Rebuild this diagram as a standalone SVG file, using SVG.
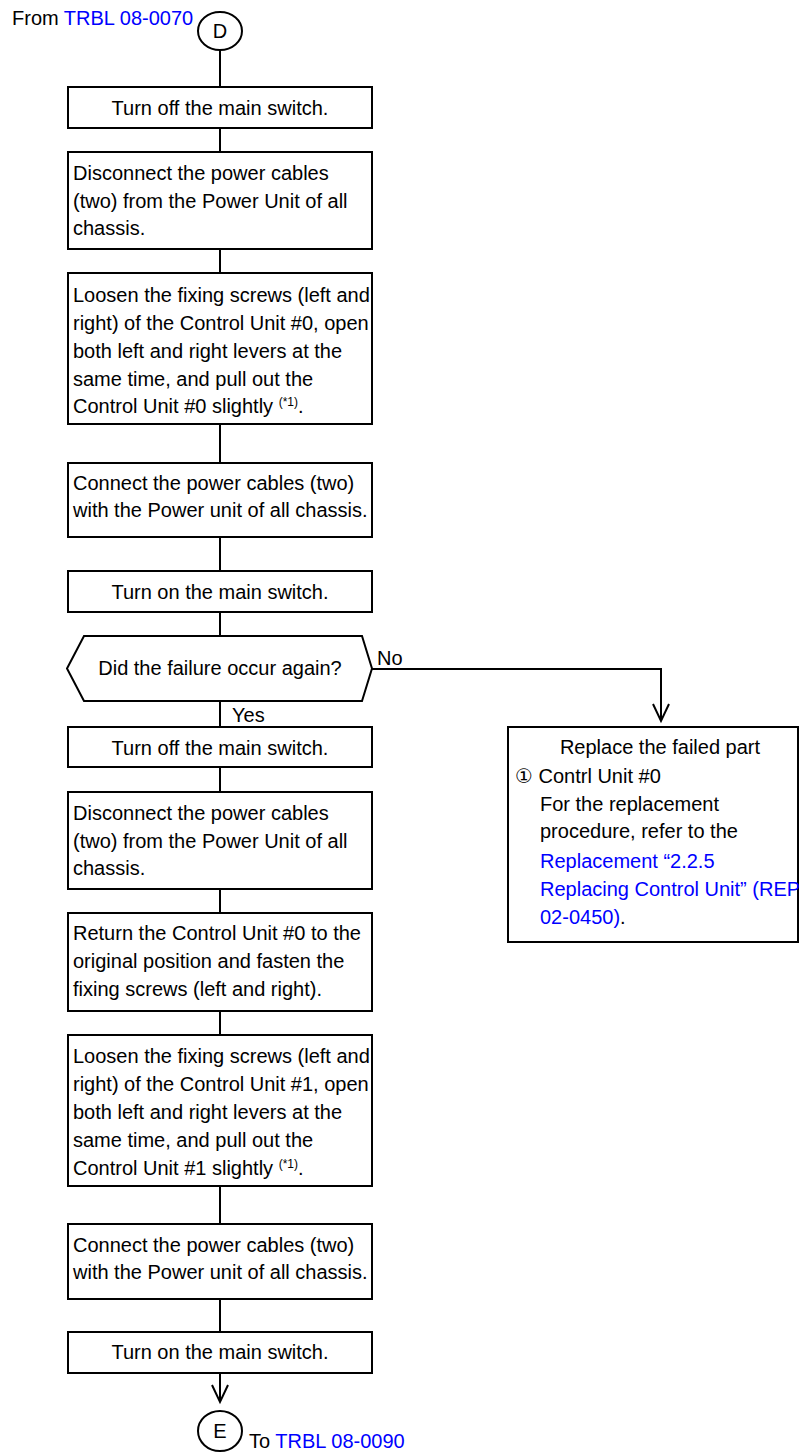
<svg xmlns="http://www.w3.org/2000/svg" width="799" height="1453" viewBox="0 0 799 1453">
<style>
text{font-family:"Liberation Sans",Arial,"DejaVu Sans",sans-serif;font-size:20px;fill:#000}
.c{text-anchor:middle}
.lk{fill:#0000ff}
.sup{font-size:12px}
.box{fill:#fff;stroke:#000;stroke-width:2}
.ln{fill:none;stroke:#000;stroke-width:2}
</style>
<defs>
<marker id="arr" markerUnits="userSpaceOnUse" orient="auto" refX="0" refY="0" markerWidth="20" markerHeight="20" overflow="visible">
<path d="M-17,-8 L0,0 L-17,8" fill="none" stroke="#000" stroke-width="2"/>
</marker>
</defs>
<g id="connectors">
<line class="ln" x1="220" y1="50" x2="220" y2="87"/>
<line class="ln" x1="220" y1="128" x2="220" y2="152"/>
<line class="ln" x1="220" y1="249" x2="220" y2="273"/>
<line class="ln" x1="220" y1="424" x2="220" y2="463"/>
<line class="ln" x1="220" y1="537" x2="220" y2="571"/>
<line class="ln" x1="220" y1="612" x2="220" y2="636"/>
<line class="ln" x1="220" y1="701" x2="220" y2="727"/>
<line class="ln" x1="220" y1="767" x2="220" y2="792"/>
<line class="ln" x1="220" y1="889" x2="220" y2="913"/>
<line class="ln" x1="220" y1="1011" x2="220" y2="1035"/>
<line class="ln" x1="220" y1="1186" x2="220" y2="1224"/>
<line class="ln" x1="220" y1="1299" x2="220" y2="1332"/>
<line class="ln" x1="220" y1="1373" x2="220" y2="1402" marker-end="url(#arr)"/>
<polyline class="ln" points="372,669 661,669 661,721" marker-end="url(#arr)"/>
<text x="377" y="665">No</text>
<text x="232" y="722">Yes</text>
</g>
<g id="startD">
<text x="12" y="25">From <tspan class="lk">TRBL 08-0070</tspan></text>
<ellipse class="box" cx="220" cy="31" rx="22" ry="19"/>
<text class="c" x="220" y="38">D</text>
</g>
<g id="n1">
<rect class="box" x="68" y="87" width="304" height="41"/>
<text class="c" x="220" y="115">Turn off the main switch.</text>
</g>
<g id="n2">
<rect class="box" x="68" y="152" width="304" height="97"/>
<text x="73" y="180">Disconnect the power cables</text>
<text x="73" y="208">(two) from the Power Unit of all</text>
<text x="73" y="235">chassis.</text>
</g>
<g id="n3">
<rect class="box" x="68" y="273" width="304" height="151"/>
<text x="73" y="302">Loosen the fixing screws (left and</text>
<text x="73" y="330">right) of the Control Unit #0, open</text>
<text x="73" y="357.5">both left and right levers at the</text>
<text x="73" y="385.5">same time, and pull out the</text>
<text x="73" y="413">Control Unit #0 slightly <tspan class="sup" dy="-7">(*1)</tspan><tspan dy="7">.</tspan></text>
</g>
<g id="n4">
<rect class="box" x="68" y="463" width="304" height="74"/>
<text x="73" y="490">Connect the power cables (two)</text>
<text x="73" y="517">with the Power unit of all chassis.</text>
</g>
<g id="n5">
<rect class="box" x="68" y="571" width="304" height="41"/>
<text class="c" x="220" y="599">Turn on the main switch.</text>
</g>
<g id="d1">
<polygon class="box" points="67,668.5 84,636 362,636 372,668.5 362,701 84,701"/>
<text class="c" x="220" y="675">Did the failure occur again?</text>
</g>
<g id="n6">
<rect class="box" x="68" y="727" width="304" height="40"/>
<text class="c" x="220" y="755">Turn off the main switch.</text>
</g>
<g id="n7">
<rect class="box" x="68" y="792" width="304" height="97"/>
<text x="73" y="820">Disconnect the power cables</text>
<text x="73" y="847.5">(two) from the Power Unit of all</text>
<text x="73" y="875">chassis.</text>
</g>
<g id="n8">
<rect class="box" x="68" y="913" width="304" height="98"/>
<text x="73" y="940">Return the Control Unit #0 to the</text>
<text x="73" y="968">original position and fasten the</text>
<text x="73" y="996">fixing screws (left and right).</text>
</g>
<g id="n9">
<rect class="box" x="68" y="1035" width="304" height="151"/>
<text x="73" y="1063">Loosen the fixing screws (left and</text>
<text x="73" y="1091">right) of the Control Unit #1, open</text>
<text x="73" y="1118.5">both left and right levers at the</text>
<text x="73" y="1146.5">same time, and pull out the</text>
<text x="73" y="1175">Control Unit #1 slightly <tspan class="sup" dy="-7">(*1)</tspan><tspan dy="7">.</tspan></text>
</g>
<g id="n10">
<rect class="box" x="68" y="1224" width="304" height="75"/>
<text x="73" y="1252">Connect the power cables (two)</text>
<text x="73" y="1279">with the Power unit of all chassis.</text>
</g>
<g id="n11">
<rect class="box" x="68" y="1332" width="304" height="41"/>
<text class="c" x="220" y="1359">Turn on the main switch.</text>
</g>
<g id="endE">
<ellipse class="box" cx="220" cy="1431" rx="22" ry="20"/>
<text class="c" x="220" y="1438">E</text>
<text x="249" y="1448">To <tspan class="lk">TRBL 08-0090</tspan></text>
</g>
<g id="r1">
<rect class="box" x="508" y="727" width="290" height="215"/>
<text class="c" x="660" y="754">Replace the failed part</text>
<text x="515" y="783">① Contrl Unit #0</text>
<text x="540" y="811">For the replacement</text>
<text x="540" y="838">procedure, refer to the</text>
<text x="540" y="868" class="lk">Replacement “2.2.5</text>
<text x="540" y="896" class="lk">Replacing Control Unit” (REP</text>
<text x="540" y="924"><tspan class="lk">02-0450)</tspan>.</text>
</g>
</svg>
